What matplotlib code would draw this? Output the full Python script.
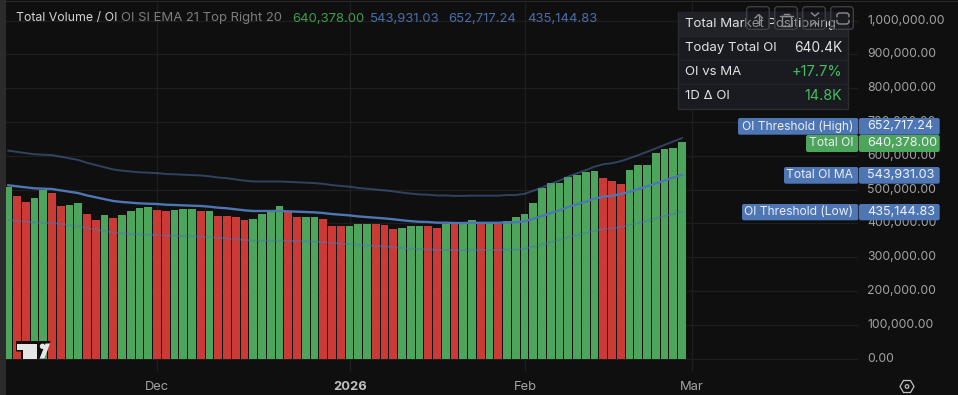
import matplotlib
matplotlib.use("Agg")
import matplotlib.pyplot as plt
from matplotlib.patches import FancyBboxPatch, Polygon, Rectangle, Circle

plt.rcParams['font.family'] = ['Inter', 'DejaVu Sans']

# значения, тысячи
oi_values = [509, 481, 464, 475, 500, 490, 452, 455, 461, 428, 410, 425, 416, 425, 437, 446, 449, 440, 437, 440,
             443, 443, 437, 437, 422, 422, 419, 410, 413, 428, 434, 452, 437, 419, 419, 419, 413, 393, 393, 393,
             398.5, 398.5, 398.5, 395.6, 383.7, 386.7, 392.6, 392.6, 392.6, 386.7, 398.5, 398.5, 398.5, 410, 401.5, 401.5, 398.5, 407, 419, 428,
             461, 505, 520, 521, 537.6, 543.5, 552, 555, 534.6, 525.7, 517, 558, 573, 573, 608.6, 620, 623, 640.378]
red_bars = [1, 2, 5, 6, 9, 10, 12, 17, 18, 22, 24, 25, 26, 27, 32, 33, 36, 37, 38, 42, 43, 44, 48, 49, 51, 54, 56, 68, 69, 70]

ma_values = [513, 510, 507, 504, 503, 502, 498, 494, 490, 483, 477.5, 472, 466.6, 463.6, 461.6, 459.6, 458.6, 457.7, 455.6, 454.7,
             453.7, 452.7, 451.8, 449.7, 446.7, 445, 442, 439, 437, 437, 437, 437, 436, 435, 434, 433, 431, 428, 426, 424,
             421, 419, 417, 415, 412.5, 409.6, 407, 405, 404.4, 402.4, 402.4, 401.4, 401.4, 402, 402, 402, 402, 403.5, 403.5, 406.5,
             414, 422, 431, 439, 449, 457, 464.6, 473.5, 479.4, 482, 487, 494, 502, 510, 518.5, 527, 535.5, 543.931]
high_values = [615.6, 612, 608.4, 604.8, 603.6, 602.4, 597.6, 592.8, 588, 579.6, 573, 566.4, 559.9, 556.3, 553.9, 551.5, 550.3, 549.2, 546.7, 545.6,
               544.4, 543.2, 542.2, 539.6, 536, 534, 530.4, 526.8, 524.4, 524.4, 524.4, 524.4, 523.2, 522, 520.8, 519.6, 517.2, 513.6, 511.2, 508.8,
               505.2, 502.8, 500.4, 498, 495, 491.5, 488.4, 486, 485.3, 482.9, 482.9, 481.7, 481.7, 482.4, 482.4, 482.4, 482.4, 484.2, 484.2, 487.8,
               496.8, 506.4, 517.2, 526.8, 538.8, 548.4, 557.5, 568.2, 575.3, 578.4, 584.4, 592.8, 602.4, 612, 622.2, 632.4, 642.6, 652.717]
low_values = [410.4, 408, 405.6, 403.2, 402.4, 401.6, 398.4, 395.2, 392, 386.4, 382, 377.6, 373.3, 370.9, 369.3, 367.7, 366.9, 366.2, 364.5, 363.8,
              363, 362.2, 361.4, 359.8, 357.4, 356, 353.6, 351.2, 349.6, 349.6, 349.6, 349.6, 348.8, 348, 347.2, 346.4, 344.8, 342.4, 340.8, 339.2,
              336.8, 335.2, 333.6, 332, 330, 327.7, 325.6, 324, 323.5, 321.9, 321.9, 321.1, 321.1, 321.6, 321.6, 321.6, 321.6, 322.8, 322.8, 325.2,
              331.2, 337.6, 344.8, 351.2, 359.2, 365.6, 371.7, 378.8, 383.5, 385.6, 389.6, 395.2, 401.6, 408, 414.8, 421.6, 428.4, 435.145]

y_ticks = [0, 100, 200, 300, 400, 500, 600, 700, 800, 900, 1000]
month_ticks = [17.05, 39.1, 59.05, 78.1]
month_labels = ["Dec", "2026", "Feb", "Mar"]

BG = "#0f0f0f"
GRID = "#1e1e1e"
GREEN = "#4ca55a"
RED = "#cc3a35"
BLUE = "#4f76b4"
TXT = "#a3a3a3"

fig = plt.figure(figsize=(9.58, 3.95), dpi=100, facecolor=BG)
W, H = 958, 395

# основной график: x от 6 до 858, y от 2 до 372 пикселей
ax = fig.add_axes([6 / W, 1 - 372 / H, 852 / W, 370 / H], facecolor=BG)
ax.set_xlim((6 - 8.25) / 8.75, (858 - 8.25) / 8.75)
ax.set_ylim((358.7 - 372) / 0.338, (358.7 - 2) / 0.338)
for s in ax.spines.values():
    s.set_visible(False)
ax.set_xticks(month_ticks)
ax.set_yticks(y_ticks)
ax.tick_params(length=0, labelbottom=False, labelleft=False)
ax.grid(True, color=GRID, lw=1)
ax.set_axisbelow(True)

xs = list(range(len(oi_values)))
colors = [RED if i in red_bars else GREEN for i in xs]
ax.bar(xs, oi_values, width=0.9, color=colors, zorder=2)
ax.plot(xs, high_values, color=BLUE, alpha=0.5, lw=1.4, zorder=3)
ax.plot(xs, low_values, color=BLUE, alpha=0.5, lw=1.4, zorder=3)
ax.plot(xs, ma_values, color=BLUE, lw=1.7, zorder=3)

# накладка в пикселях для подписей, плашек и панели
ov = fig.add_axes([0, 0, 1, 1], facecolor="none")
ov.set_xlim(0, W)
ov.set_ylim(H, 0)
ov.axis("off")
ov.add_patch(Rectangle((0, 0), 6, H, fc="#2b2b2b", ec="none"))
ov.add_patch(Rectangle((0, 1), W, 1, fc="#2b2b2b", ec="none"))

FS = 9.3
AXIS_FS = 8.8
PANEL_FS = 9.5


def label(x, y, s, color=TXT, ha="left", fs=FS, **kw):
    ov.text(x, y, s, color=color, ha=ha, va="center", fontsize=fs, zorder=kw.pop("zorder", 6), **kw)


# заголовок
label(16, 18.5, "Total Volume / OI", "#d4d4d4", fs=8.9)
label(121, 18.5, "OI SI EMA 21 Top Right 20", "#7d7d7d", fs=9.45)
label(292, 18.5, "640,378.00", "#3f9a4e", fs=9.45)
label(370, 18.5, "543,931.03", "#4a6fa8", fs=9.45)
label(448, 18.5, "652,717.24", "#4a6fa8", fs=9.45)
label(527, 18.5, "435,144.83", "#4a6fa8", fs=9.45)

# подписи осей
for v in y_ticks:
    txt = "0.00" if v == 0 else f"{v * 1000:,.2f}"
    label(867.5, 358.7 - v * 0.338, txt, TXT, fs=AXIS_FS)
for xt, name in zip(month_ticks, month_labels):
    px = 8.25 + 8.75 * xt
    bold = name == "2026"
    label(px, 386.7, name, "#c0c0c0" if bold else TXT, ha="center", fontweight="bold" if bold else "normal")


def tag(x0, x1, y0, y1, color, zorder=7):
    ov.add_patch(FancyBboxPatch((x0 + 2, y0 + 2), x1 - x0 - 4, y1 - y0 - 4, boxstyle="round,pad=2", fc=color, ec="none", zorder=zorder))


tags = [(738, 118, 134.7, "OI Threshold (High)", "652,717.24", BLUE),
        (806, 135, 152, "Total OI", "640,378.00", GREEN),
        (784, 167, 183.7, "Total OI MA", "543,931.03", BLUE),
        (742, 204, 220.3, "OI Threshold (Low)", "435,144.83", BLUE)]
for left, top, bottom, name, val, col in tags:
    tag(left, 858.3, top, bottom, col)
    tag(859, 939.7, top, bottom, col)
    mid = (top + bottom) / 2
    label(853.5, mid, name, "#e8edf5", ha="right", fs=8.7, zorder=8)
    label(867.5, mid, val, "#eef2f8", fs=9.1, zorder=8)

# панель Total Market Positioning
ov.add_patch(Rectangle((678.5, 11.5), 170, 97, fc="#1a1b20", ec="#2b2d33", lw=1, zorder=9))
ov.add_patch(Rectangle((679, 12), 169, 24, fc="#202228", ec="none", zorder=9))
for yy in (36, 60, 84):
    ov.plot([679, 848], [yy, yy], color="#24262c", lw=0.8, zorder=9)
label(685, 24, "Total Market Positioning", "#e2e2e2", fs=PANEL_FS, zorder=10)
label(685, 48, "Today Total OI", "#e2e2e2", fs=PANEL_FS, zorder=10)
label(842, 48, "640.4K", "#e2e2e2", ha="right", fs=9.9, zorder=10)
label(685, 72, "OI vs MA", "#e2e2e2", fs=PANEL_FS, zorder=10)
label(842, 72, "+17.7%", "#43bf62", ha="right", fs=10.5, zorder=10)
label(685, 96, "1D Δ OI", "#e2e2e2", fs=PANEL_FS, zorder=10)
label(842, 96, "14.8K", "#43bf62", ha="right", fs=10.3, zorder=10)

# кнопки поверх панели
ICON = "#8c8c8c"
for bx in (746.7, 774.7, 802.7, 830.7):
    ov.add_patch(FancyBboxPatch((bx + 3, 9.7), 16.6, 16.6, boxstyle="round,pad=3", fc=(0.08, 0.08, 0.09, 0.4), ec="#3c3e43", lw=1, zorder=11))
ov.plot([758.7, 758.7], [15, 25], color=ICON, lw=1, zorder=12)
ov.plot([755, 758.7, 762.4], [18, 14.5, 18], color=ICON, lw=1, zorder=12)
ov.add_patch(Rectangle((782.5, 16), 8.5, 9.5, fc="none", ec=ICON, lw=1, zorder=12))
ov.plot([780.5, 793], [16, 16], color=ICON, lw=1, zorder=12)
ov.plot([784.5, 789], [13.5, 13.5], color=ICON, lw=1, zorder=12)
ov.plot([811.5, 815, 818.5], [13, 16, 13], color=ICON, lw=1, zorder=12)
ov.plot([811.5, 815, 818.5], [25, 22, 25], color=ICON, lw=1, zorder=12)
ov.plot([837, 837, 839, 847, 849, 849], [16.5, 14.5, 13, 13, 14.5, 16.5], color=ICON, lw=1, zorder=12)
ov.plot([837, 837, 839, 847, 849, 849], [20.5, 22.5, 24, 24, 22.5, 20.5], color=ICON, lw=1, zorder=12)

# значок настроек
hex_pts = [(900, 386.5), (903.5, 380.5), (910.5, 380.5), (914, 386.5), (910.5, 392.5), (903.5, 392.5)]
ov.add_patch(Polygon(hex_pts, closed=True, fc="none", ec="#c0c0c0", lw=0.9))
ov.add_patch(Circle((907, 386.5), 1.8, fc="none", ec="#c0c0c0", lw=0.9))

# логотип TradingView
ov.add_patch(Polygon([(16, 341), (50.5, 341), (44.5, 359), (22, 359), (22, 351.5), (16, 351.5)], closed=True, fc="#0f0f0f", ec="none", zorder=4))
ov.add_patch(Polygon([(17.5, 343.5), (37.3, 343.5), (37.3, 358.7), (23.5, 358.7), (23.5, 350), (17.5, 350)], closed=True, fc="#e6e6e6", ec="none", zorder=5))
ov.add_patch(Circle((42.5, 346.3), 2.7, fc="#e6e6e6", ec="none", zorder=5))
ov.add_patch(Polygon([(39.5, 358.7), (44.5, 358.7), (50, 343.5), (45.5, 343.5)], closed=True, fc="#e6e6e6", ec="none", zorder=5))

fig.savefig("out.png", dpi=100, facecolor=BG)
